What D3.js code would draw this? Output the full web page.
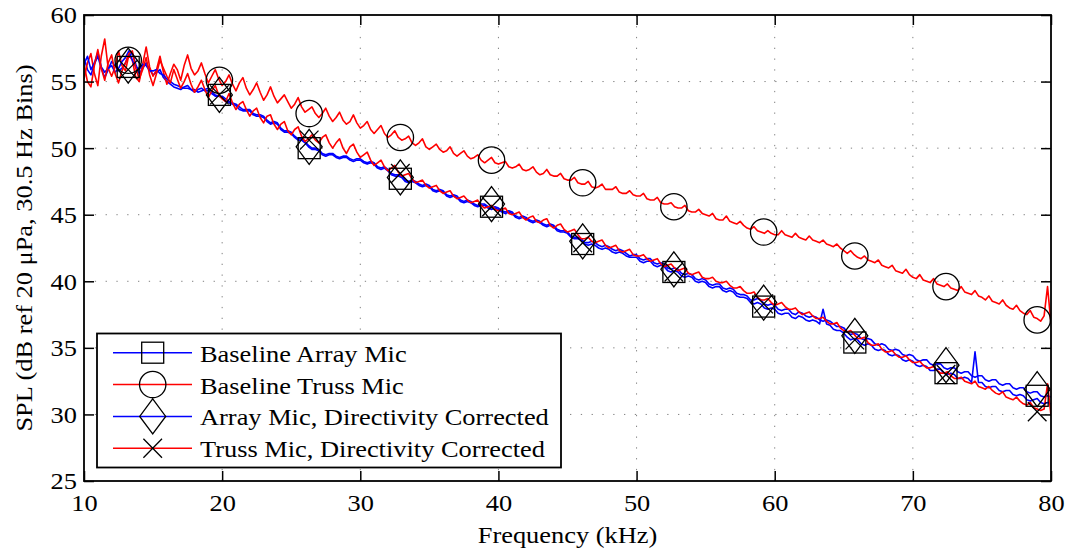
<!DOCTYPE html>
<html><head><meta charset="utf-8">
<script src="https://cdn.jsdelivr.net/npm/d3@7"></script>
<style>
html,body{margin:0;padding:0;background:#fff;}
svg text{font-family:"Liberation Serif","Times New Roman",serif;fill:#000;}
</style></head>
<body><svg id="chart" width="1067" height="551"></svg>
<script>
// ---------- data ----------
const freqStart = 10, freqStep = 0.25; // kHz grid for the spectra (rows of 2 kHz)
const xTicks = [10,20,30,40,50,60,70,80];
const yTicks = [25,30,35,40,45,50,55,60];
const seriesNames = ["Baseline Array Mic","Baseline Truss Mic","Array Mic, Directivity Corrected","Truss Mic, Directivity Corrected"];
const seriesColors = ["#0000ff","#ff0000","#0000ff","#ff0000"];
const seriesMarkers = ["square","circle","diamond","cross"];

const baselineArray = [
56.8,55.9,55.5,56.3,56.9,56.0,55.3,55.9,
56.5,56.2,55.8,56.0,56.4,57.0,57.1,56.3,
55.6,56.0,56.4,55.9,55.5,55.7,55.9,55.3,
55.0,54.8,54.6,54.5,54.4,54.6,54.7,54.4,
54.2,54.4,54.5,54.3,54.3,54.1,53.9,53.9,
53.8,53.5,53.4,53.3,53.2,52.9,52.8,52.8,
52.8,52.5,52.4,52.4,52.3,52.0,51.8,51.9,
51.8,51.4,51.2,51.2,51.1,50.8,50.6,50.6,
50.4,50.1,49.9,49.9,49.8,49.5,49.4,49.5,
49.5,49.3,49.2,49.3,49.3,49.1,49.0,49.1,
49.1,48.9,48.8,48.9,48.8,48.5,48.4,48.5,
48.3,48.0,47.9,47.9,47.8,47.5,47.4,47.5,
47.4,47.2,47.1,47.2,47.1,46.8,46.7,46.8,
46.7,46.4,46.3,46.4,46.3,46.0,45.9,46.0,
45.9,45.7,45.6,45.7,45.7,45.5,45.4,45.5,
45.4,45.2,45.1,45.2,45.1,44.8,44.7,44.8,
44.7,44.5,44.4,44.5,44.4,44.2,44.1,44.2,
44.1,43.8,43.7,43.7,43.6,43.3,43.2,43.2,
43.1,42.8,42.7,42.8,42.7,42.5,42.4,42.5,
42.4,42.2,42.1,42.2,42.1,41.9,41.8,41.8,
41.8,41.5,41.4,41.5,41.5,41.2,41.1,41.2,
41.1,40.8,40.7,40.8,40.7,40.4,40.3,40.4,
40.3,40.0,39.9,40.0,39.9,39.6,39.5,39.6,
39.6,39.3,39.2,39.3,39.2,38.9,38.8,38.8,
38.7,38.4,38.3,38.4,38.3,38.0,37.9,38.0,
37.9,37.6,37.5,37.6,37.6,37.3,37.2,37.4,
37.3,37.1,37.0,37.1,37.0,36.8,37.9,36.8,
36.7,36.4,36.3,36.3,36.1,35.8,35.6,35.7,
35.6,35.3,35.2,35.3,35.2,34.9,34.8,34.9,
34.8,34.5,34.4,34.5,34.4,34.1,34.0,34.1,
34.0,33.7,33.6,33.7,33.6,33.3,33.3,33.4,
33.4,33.1,33.0,33.1,33.0,32.7,32.7,32.8,
32.7,32.4,34.7,32.4,32.4,32.1,32.0,32.1,
32.1,31.8,31.7,31.8,31.8,31.5,31.4,31.5,
31.4,31.1,31.0,31.1,31.2,30.9,30.8,30.9,
30.8];

const baselineTruss = [
55.2,56.4,57.1,55.6,54.7,56.9,58.2,56.0,
55.4,56.1,57.3,56.2,55.8,57.0,56.6,55.3,
55.0,56.3,57.6,56.1,55.4,55.9,56.9,55.7,
54.8,55.6,56.3,55.9,55.1,56.2,57.0,56.0,
55.5,55.8,56.4,55.6,54.9,55.4,55.9,55.2,
54.7,55.0,55.5,54.8,54.3,54.9,55.3,54.5,
54.0,54.4,54.9,54.2,53.6,54.0,54.6,53.9,
53.4,53.7,54.0,53.5,53.0,53.3,53.8,53.1,
52.7,52.9,53.1,52.6,52.3,52.6,53.0,52.4,
52.0,52.3,52.7,52.1,51.8,52.0,52.5,51.9,
51.5,51.7,52.0,51.4,51.1,51.4,51.7,51.1,
50.8,51.0,51.3,50.8,50.6,50.7,50.9,50.4,
50.2,50.4,50.7,50.1,49.9,50.1,50.3,49.9,
49.7,49.8,50.1,49.6,49.4,49.6,49.8,49.4,
49.2,49.3,49.5,49.1,48.9,49.1,49.3,48.9,
48.8,48.9,49.0,48.6,48.5,48.6,48.8,48.4,
48.3,48.4,48.6,48.2,48.0,48.1,48.4,48.0,
47.9,47.9,48.1,47.7,47.6,47.6,47.8,47.4,
47.3,47.3,47.5,47.1,47.0,47.1,47.3,46.9,
46.9,46.9,47.1,46.7,46.6,46.6,46.8,46.5,
46.4,46.4,46.6,46.2,46.1,46.1,46.3,45.9,
45.8,45.8,45.9,45.6,45.5,45.5,45.7,45.3,
45.2,45.2,45.4,45.1,45.0,44.9,45.1,44.7,
44.6,44.6,44.9,44.5,44.4,44.3,44.5,44.2,
44.0,43.9,44.1,43.8,43.7,43.6,43.8,43.6,
43.5,43.5,43.8,43.5,43.4,43.3,43.6,43.3,
43.2,43.1,43.4,43.1,43.0,42.9,43.1,42.8,
42.7,42.6,42.8,42.5,42.3,42.1,42.3,42.0,
41.8,41.7,41.9,41.6,41.5,41.4,41.6,41.2,
41.1,41.0,41.2,40.8,40.7,40.6,40.9,40.5,
40.3,40.2,40.5,40.1,40.0,39.9,40.2,39.8,
39.7,39.6,39.8,39.5,39.4,39.3,39.6,39.2,
39.1,39.0,39.3,38.9,38.8,38.6,38.9,38.5,
38.4,38.3,38.6,38.2,38.0,37.9,38.2,37.8,
37.6,37.5,37.8,37.3,37.2,37.0,37.4,39.6,
36.8];

const correctedArray = [
56.3,56.9,55.9,56.4,57.2,56.1,55.7,56.0,
56.2,55.7,56.0,56.5,56.8,57.3,56.6,56.1,
55.9,56.3,56.2,55.8,55.8,55.9,55.6,55.5,
55.2,55.0,54.8,54.7,54.6,54.5,54.5,54.4,
54.4,54.2,54.3,54.4,54.5,54.2,54.0,53.9,
53.9,53.7,53.5,53.4,53.3,53.1,52.9,52.9,
52.9,52.6,52.5,52.5,52.4,52.1,51.9,52.0,
51.9,51.5,51.3,51.3,51.2,50.9,50.7,50.7,
50.5,50.2,50.0,50.0,49.9,49.6,49.5,49.6,
49.6,49.4,49.3,49.4,49.4,49.2,49.1,49.2,
49.2,49.0,48.9,49.0,48.9,48.6,48.5,48.6,
48.4,48.1,48.0,48.0,47.9,47.6,47.5,47.6,
47.5,47.3,47.2,47.3,47.2,46.9,46.8,46.9,
46.8,46.5,46.4,46.5,46.4,46.1,46.0,46.1,
46.0,45.8,45.7,45.8,45.8,45.6,45.5,45.6,
45.5,45.3,45.2,45.3,45.2,44.9,44.8,44.9,
44.8,44.6,44.5,44.6,44.5,44.3,44.2,44.3,
44.2,43.9,43.8,43.8,43.7,43.4,43.3,43.3,
43.2,42.9,42.9,43.0,42.9,42.7,42.6,42.7,
42.6,42.4,42.3,42.4,42.3,42.1,41.9,42.0,
42.0,41.7,41.6,41.7,41.7,41.4,41.3,41.4,
41.3,41.0,40.9,41.0,40.9,40.6,40.5,40.6,
40.5,40.2,40.1,40.2,40.1,39.8,39.7,39.8,
39.8,39.5,39.4,39.5,39.4,39.1,39.0,39.0,
38.9,38.6,38.6,38.7,38.6,38.3,38.2,38.3,
38.2,37.9,37.8,37.9,37.9,37.6,37.5,37.7,
37.6,37.4,37.3,37.4,37.3,37.1,37.0,37.1,
37.0,36.8,36.6,36.6,36.5,36.2,36.0,36.1,
36.0,35.7,35.6,35.7,35.6,35.3,35.2,35.3,
35.2,34.9,34.8,34.9,34.8,34.5,34.4,34.5,
34.4,34.1,34.0,34.1,34.1,33.8,33.7,33.8,
33.8,33.5,33.4,33.5,33.5,33.2,33.1,33.2,
33.2,32.9,32.8,32.9,32.9,32.6,32.5,32.6,
32.6,32.3,32.2,32.3,32.3,32.0,31.9,32.0,
32.0,31.7,31.6,31.7,31.7,31.4,31.3,31.4,
31.3];

const correctedTruss = [
56.3,55.0,54.6,56.2,57.4,56.0,55.1,56.4,
57.0,55.6,54.9,55.8,56.4,57.1,57.3,56.0,
55.2,55.9,56.8,55.5,54.7,55.6,56.6,56.0,
55.4,54.9,55.9,55.2,54.5,55.0,55.6,54.8,
54.2,54.6,55.1,54.4,53.8,54.3,54.7,54.0,
53.7,53.5,54.1,53.4,52.9,53.3,53.5,52.9,
52.4,52.8,53.0,52.3,51.9,52.4,52.5,51.8,
51.4,51.8,52.0,51.3,51.0,51.4,51.6,50.9,
50.5,50.7,51.0,50.6,50.4,50.8,51.0,50.4,
50.0,50.4,50.7,50.0,49.6,50.1,50.3,49.7,
49.3,49.5,49.7,49.1,48.7,48.9,49.1,48.6,
48.3,48.5,48.7,48.2,47.9,48.0,48.1,47.7,
47.4,47.5,47.6,47.2,47.0,47.1,47.2,46.8,
46.6,46.7,46.8,46.4,46.2,46.3,46.4,46.1,
45.9,46.0,46.1,45.7,45.5,45.6,45.7,45.4,
45.3,45.4,45.5,45.1,45.0,45.1,45.2,44.8,
44.6,44.8,44.9,44.5,44.4,44.6,44.7,44.2,
44.0,44.2,44.3,43.9,43.7,43.8,43.9,43.5,
43.2,43.2,43.3,43.0,42.9,43.0,43.1,42.7,
42.5,42.6,42.7,42.3,42.2,42.3,42.4,42.0,
41.9,41.9,42.0,41.7,41.5,41.6,41.7,41.3,
41.1,41.2,41.3,41.0,40.8,40.9,41.0,40.6,
40.5,40.6,40.7,40.3,40.2,40.2,40.3,40.0,
39.9,39.9,40.0,39.7,39.5,39.5,39.6,39.3,
39.1,39.1,39.2,38.8,38.6,38.6,38.7,38.4,
38.2,38.3,38.4,38.1,37.9,37.9,38.0,37.7,
37.5,37.6,37.7,37.4,37.2,37.2,37.3,37.0,
36.8,36.8,36.9,36.5,36.3,36.2,36.3,36.0,
35.7,35.7,35.8,35.4,35.2,35.2,35.3,34.9,
34.7,34.7,34.8,34.5,34.3,34.3,34.4,34.1,
33.9,33.9,34.0,33.7,33.5,33.5,33.6,33.3,
33.1,33.1,33.2,32.9,32.7,32.7,32.8,32.5,
32.4,32.3,32.5,32.1,32.0,31.9,32.1,31.8,
31.6,31.5,31.7,31.3,31.2,31.1,31.3,31.0,
30.8,30.7,30.9,30.5,30.4,30.3,30.4,32.3,
29.9];

const markerFreqs = [13.2,19.8,26.3,32.9,39.5,46.1,52.7,59.2,65.8,72.4,79.0];
const markerBaselineArray  = [56.1,54.0,50.0,47.7,45.6,42.8,40.7,38.1,35.4,33.1,31.4];
const markerBaselineTruss  = [56.6,55.1,52.6,50.8,49.1,47.4,45.6,43.7,41.9,39.6,37.1];
const markerCorrectedArray = [56.2,54.0,50.1,47.8,45.8,43.0,40.9,38.4,35.9,33.7,31.9];
const markerCorrectedTruss = [55.9,54.0,50.6,48.1,45.6,42.9,40.7,38.3,35.6,33.0,30.2];

const xLabel = "Frequency (kHz)";
const yLabel = "SPL (dB ref 20 \u03bcPa, 30.5 Hz Bins)";

// ---------- drawing ----------
const svg = d3.select("#chart");
const L = 84, R = 1051, T = 15, B = 481;
const x = d3.scaleLinear().domain([10,80]).range([L,R]);
const y = d3.scaleLinear().domain([25,60]).range([B,T]);
const FS = 24, SX = 1.1;

svg.append("rect").attr("width",1067).attr("height",551).attr("fill","#fff");

// grid
const grid = svg.append("g").attr("stroke","#808080").attr("stroke-width",1).attr("stroke-dasharray","1.3,9.5");
grid.selectAll("line.gx").data(xTicks.slice(1,-1)).join("line")
  .attr("x1",d=>x(d)).attr("x2",d=>x(d)).attr("y1",B).attr("y2",T);
grid.selectAll("line.gy").data(yTicks.slice(1,-1)).join("line")
  .attr("y1",d=>y(d)).attr("y2",d=>y(d)).attr("x1",L).attr("x2",R);

// data lines
const defs = svg.append("defs");
defs.append("clipPath").attr("id","clip").append("rect").attr("x",L).attr("y",T).attr("width",R-L).attr("height",B-T);
const spectra = [baselineArray, baselineTruss, correctedArray, correctedTruss];
const line = d3.line().x((d,i)=>x(freqStart+freqStep*i)).y(d=>y(d));
const lines = svg.append("g").attr("clip-path","url(#clip)");
spectra.forEach((s,k)=>{
  lines.append("path").datum(s).attr("d",line).attr("fill","none")
    .attr("stroke",seriesColors[k]).attr("stroke-width",1.6).attr("stroke-linejoin","round");
});

// marker shapes
function drawMarker(g, type, cx, cy){
  let el;
  if(type==="square") el = g.append("rect").attr("x",cx-11).attr("y",cy-10.5).attr("width",22).attr("height",21);
  else if(type==="circle") el = g.append("circle").attr("cx",cx).attr("cy",cy).attr("r",13.2);
  else if(type==="diamond") el = g.append("path").attr("d",`M${cx},${cy-17.5}L${cx+13},${cy}L${cx},${cy+17.5}L${cx-13},${cy}Z`);
  else el = g.append("path").attr("d",`M${cx-9.3},${cy-9.5}L${cx+9.3},${cy+9.5}M${cx-9.3},${cy+9.5}L${cx+9.3},${cy-9.5}`);
  el.attr("fill","none").attr("stroke","#000").attr("stroke-width",1.3);
}
const markerSets = [markerBaselineArray, markerBaselineTruss, markerCorrectedArray, markerCorrectedTruss];
const mg = svg.append("g");
markerSets.forEach((vals,k)=>{
  vals.forEach((v,i)=>drawMarker(mg, seriesMarkers[k], x(markerFreqs[i]), y(v)));
});

// axes
function styleText(sel){
  sel.selectAll("text").each(function(){
    const t = d3.select(this);
    const x0 = +t.attr("x") || 0;
    t.attr("x", x0/SX).attr("transform",`scale(${SX},1)`).style("font-size",FS+"px").attr("fill","#000");
  });
}
const gx = svg.append("g").attr("transform",`translate(0,${B})`)
  .call(d3.axisBottom(x).tickValues(xTicks).tickSizeInner(-10).tickSizeOuter(0).tickPadding(13).tickFormat(d3.format("d")));
const gy = svg.append("g").attr("transform",`translate(${L},0)`)
  .call(d3.axisLeft(y).tickValues(yTicks).tickSizeInner(-10).tickSizeOuter(0).tickPadding(7).tickFormat(d3.format("d")));
const gxt = svg.append("g").attr("transform",`translate(0,${T})`)
  .call(d3.axisTop(x).tickValues(xTicks).tickSizeInner(-10).tickSizeOuter(0).tickFormat(""));
const gyr = svg.append("g").attr("transform",`translate(${R},0)`)
  .call(d3.axisRight(y).tickValues(yTicks).tickSizeInner(-10).tickSizeOuter(0).tickFormat(""));
[gx,gy,gxt,gyr].forEach(g=>{
  g.select(".domain").remove();
  g.selectAll(".tick line").attr("stroke","#000").attr("stroke-width",1.5);
  g.attr("font-family",null).attr("font-size",null);
});
styleText(gx); styleText(gy);
gy.selectAll("text").attr("dy","0.33em");

// frame
svg.append("rect").attr("x",L).attr("y",T).attr("width",R-L).attr("height",B-T)
  .attr("fill","none").attr("stroke","#000").attr("stroke-width",1.8);

// axis labels
svg.append("text").attr("transform",`translate(${(L+R)/2},543) scale(${SX},1)`)
  .attr("text-anchor","middle").style("font-size",FS+"px").text(xLabel);
svg.append("text").attr("transform",`translate(32,${(T+B)/2}) rotate(-90) scale(${SX},1)`)
  .attr("text-anchor","middle").style("font-size",FS+"px").text(yLabel);

// legend
const lg = svg.append("g");
lg.append("rect").attr("x",97).attr("y",333.5).attr("width",464).attr("height",134)
  .attr("fill","#fff").attr("stroke","#000").attr("stroke-width",1.8);
const rowY = d3.scaleLinear().domain([0,3]).range([352.7,448.3]);
seriesNames.forEach((name,k)=>{
  const cy = rowY(k);
  lg.append("line").attr("x1",113).attr("x2",192).attr("y1",cy).attr("y2",cy)
    .attr("stroke",seriesColors[k]).attr("stroke-width",1.5);
  drawMarker(lg, seriesMarkers[k], 152.7, cy);
  lg.append("text").attr("transform",`translate(200,${cy+9}) scale(${SX},1)`)
    .style("font-size",FS+"px").text(name);
});
</script></body></html>
